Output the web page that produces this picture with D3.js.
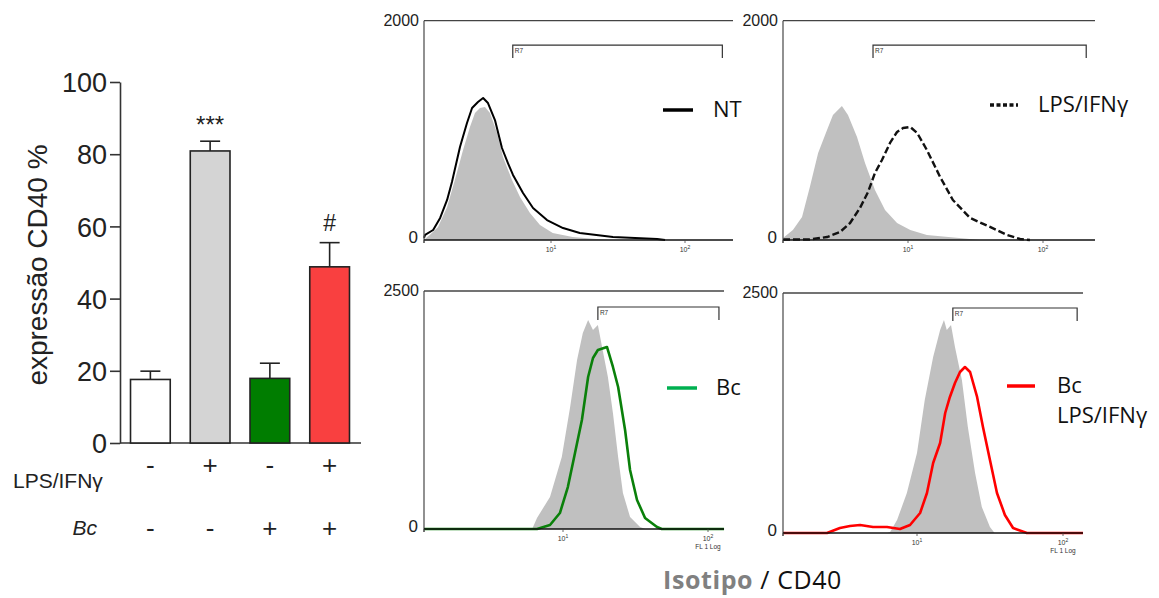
<!DOCTYPE html>
<html><head><meta charset="utf-8">
<script src="https://cdn.jsdelivr.net/npm/d3@7"></script>
<style>body{margin:0;background:#fff}svg{display:block}</style>
</head><body>
<svg id="c" width="1159" height="598"></svg>
<script>
// ---------- bar chart data ----------
const groups = ["NT", "LPS/IFNγ", "Bc", "Bc+LPS/IFNγ"];
const cd40Mean = [17.6, 80.9, 17.9, 48.8];
const cd40Err = [2.3, 2.7, 4.2, 6.7];
const barFills = ["#ffffff", "#d4d4d4", "#007d00", "#f94040"];
const signif = ["", "***", "", "#"];
const lpsRow = ["-", "+", "-", "+"];
const bcRow = ["-", "-", "+", "+"];
const yTicks = [0, 20, 40, 60, 80, 100];

// ---------- histogram data: [FL1 value, count] ----------
const isoNT = [[1.0,0],[1.06,27],[1.11,46],[1.29,119],[1.52,301],[1.75,547],[2.03,821],[2.30,1030],[2.52,1158],[2.76,1204],[3.02,1213],[3.31,1158],[3.76,976],[4.19,757],[4.93,547],[5.70,392],[6.83,246],[8.19,137],[10.3,64],[14.5,27],[21.9,9],[27,0]];
const cd40NT = [[1.0,20],[1.02,46],[1.18,91],[1.34,201],[1.52,365],[1.66,529],[1.92,848],[2.18,1067],[2.39,1204],[2.66,1258],[2.92,1295],[3.19,1249],[3.62,1094],[4.11,839],[4.58,702],[5.02,593],[6.02,429],[7.22,292],[9.3,182],[12.3,109],[16.4,64],[29,27],[62,9],[71,0]];
const isoLPS = [[1.0,18],[1.2,91],[1.42,210],[1.64,483],[1.91,793],[2.25,1003],[2.51,1140],[2.96,1222],[3.31,1140],[3.91,939],[4.53,702],[5.44,456],[6.55,274],[8.17,155],[10.4,91],[13.8,46],[24,18],[34,0]];
const cd40LPS = [[1.0,5],[1.64,5],[2.25,27],[2.86,73],[3.44,155],[4.13,292],[4.79,438],[5.44,611],[6.19,730],[7.18,885],[8.17,985],[9.12,1021],[10.4,1030],[11.7,976],[13.8,821],[17.3,575],[21.5,365],[28.8,201],[40.5,119],[54,46],[67.6,9],[80,0]];
const isoBc = [[6.0,0],[6.5,116],[8.06,336],[9.8,756],[11.2,1282],[12.5,1775],[13.7,2059],[14.9,2196],[16.1,2090],[17.4,2143],[18.6,1912],[20.4,1597],[22.1,1218],[24,756],[25.9,378],[29,126],[34,21],[37,0]];
const cd40Bc = [[1.0,0],[6.5,0],[8.06,42],[9.5,168],[10.8,441],[12.1,798],[13.5,1145],[14.9,1597],[16.1,1796],[17.4,1880],[20.1,1912],[22.1,1702],[24,1492],[26.8,1040],[29,620],[32.4,305],[36.8,116],[44.5,21],[48,0],[129,0]];
const isoBcLPS = [[6.0,0],[6.3,10],[7.1,135],[8.4,417],[10,833],[11.3,1385],[12.9,1833],[14.4,2115],[15.3,2219],[16,2115],[17.1,2167],[18.2,1938],[20.3,1594],[22.3,1104],[25,625],[27.8,271],[31.6,63],[34,0]];
const cd40BcLPS = [[1.0,0],[2.13,0],[2.66,52],[3.16,73],[3.76,83],[4.7,63],[5.97,63],[7.46,42],[8.87,83],[10.5,208],[11.7,417],[12.9,729],[14.4,938],[15.6,1250],[16.8,1417],[18.2,1563],[19.7,1677],[21.3,1729],[23.1,1677],[25.8,1417],[28.3,1104],[31.6,760],[35.3,417],[40,188],[45.5,52],[56.6,0],[137,0]];
const gates = [[5.0, 190], [5.25, 209], [17.4, 119], [17.6, 125]];
const gateLevel = [1778, 1778, 2332, 2344];
const yMaxes = [2000, 2000, 2500, 2500];
const legendLabels = [["NT"], ["LPS/IFNγ"], ["Bc"], ["Bc", "LPS/IFNγ"]];

const svg = d3.select("#c");
const AR = "'Liberation Sans', Arial, sans-serif";
const CAL = "'Open Sans', 'Noto Sans', sans-serif";

// ================= BAR CHART =================
const y = d3.scaleLinear().domain([0, 100]).range([443, 82]);
const x = d3.scaleBand().domain(groups).range([120.5, 359.5]).paddingInner(0.335).paddingOuter(0.1675);
const bar = svg.append("g");

const yAxis = bar.append("g").attr("transform", "translate(120,0)")
  .call(d3.axisLeft(y).tickValues(yTicks).tickSize(10).tickSizeOuter(0).tickPadding(3));
yAxis.select(".domain").attr("stroke", "#333").attr("stroke-width", 1.6);
yAxis.selectAll(".tick line").attr("stroke", "#333").attr("stroke-width", 1.6);
yAxis.selectAll(".tick text").attr("font-family", AR).attr("font-size", 27).attr("fill", "#222").attr("dy", "0.36em");

bar.append("line").attr("x1", 120).attr("x2", 361).attr("y1", y(0)).attr("y2", y(0))
  .attr("stroke", "#333").attr("stroke-width", 1.6);

groups.forEach((g, i) => {
  const bx = x(g), bw = x.bandwidth(), cx = bx + bw / 2;
  bar.append("line").attr("x1", cx).attr("x2", cx).attr("y1", y(cd40Mean[i])).attr("y2", y(cd40Mean[i] + cd40Err[i]))
    .attr("stroke", "#222").attr("stroke-width", 1.6);
  bar.append("line").attr("x1", cx - 10).attr("x2", cx + 10).attr("y1", y(cd40Mean[i] + cd40Err[i])).attr("y2", y(cd40Mean[i] + cd40Err[i]))
    .attr("stroke", "#222").attr("stroke-width", 1.6);
  bar.append("rect").attr("x", bx).attr("y", y(cd40Mean[i])).attr("width", bw).attr("height", y(0) - y(cd40Mean[i]))
    .attr("fill", barFills[i]).attr("stroke", "#222").attr("stroke-width", 1.6);
  if (signif[i]) {
    bar.append("text").attr("x", cx).attr("y", y(cd40Mean[i] + cd40Err[i]) - (signif[i] === "#" ? 12 : 8))
      .attr("text-anchor", "middle").attr("font-family", AR).attr("font-size", signif[i] === "#" ? 23 : 24).attr("fill", "#222")
      .text(signif[i]);
  }
  bar.append("text").attr("x", cx).attr("y", 474).attr("text-anchor", "middle").attr("font-family", AR)
    .attr("font-size", 26).attr("fill", "#222").text(lpsRow[i]);
  bar.append("text").attr("x", cx).attr("y", 537).attr("text-anchor", "middle").attr("font-family", AR)
    .attr("font-size", 26).attr("fill", "#222").text(bcRow[i]);
});

bar.append("text").attr("x", 13).attr("y", 488).attr("font-family", AR).attr("font-size", 21).attr("fill", "#222").text("LPS/IFNγ");
bar.append("text").attr("x", 97).attr("y", 535).attr("text-anchor", "end").attr("font-family", AR).attr("font-size", 21)
  .attr("font-style", "italic").attr("fill", "#222").text("Bc");
bar.append("text").attr("transform", "translate(47,265) rotate(-90)").attr("text-anchor", "middle")
  .attr("font-family", AR).attr("font-size", 28).attr("fill", "#222").text("expressão CD40 %");

// ================= HISTOGRAMS =================
const panels = [
  { ticks: [424, 551, 685], right: 733, top: 20.7, base: 240, iso: isoNT, cd: cd40NT, color: "#000", width: 2, dash: null,
    leg: { x1: 663, x2: 693, y: 110, tx: 713, ty: [117] }, fl: false },
  { ticks: [783, 908, 1043], right: 1095, top: 20.7, base: 240, iso: isoLPS, cd: cd40LPS, color: "#111", width: 2.4, dash: "7,3",
    leg: { x1: 990, x2: 1018, y: 105, tx: 1038, ty: [112] }, fl: false, legDash: "4,2.5" },
  { ticks: [424, 563, 708], right: 724, top: 291, base: 529, iso: isoBc, cd: cd40Bc, color: "#0a800a", width: 2.6, dash: null,
    leg: { x1: 667, x2: 697, y: 388, tx: 716, ty: [395] }, fl: true, legColor: "#00b050" },
  { ticks: [783, 917, 1063], right: 1083, top: 293, base: 533, iso: isoBcLPS, cd: cd40BcLPS, color: "#ff0000", width: 2.6, dash: null,
    leg: { x1: 1007, x2: 1035, y: 386, tx: 1057, ty: [393, 423] }, fl: true }
];

panels.forEach((p, i) => {
  const g = svg.append("g");
  const xs = d3.scaleLog().domain([1, 10, 100]).range(p.ticks);
  const ys = d3.scaleLinear().domain([0, yMaxes[i]]).range([p.base, p.top]);
  const x0 = p.ticks[0];

  g.append("path").datum(p.iso)
    .attr("d", d3.area().x(d => xs(d[0])).y0(ys(0)).y1(d => ys(d[1])))
    .attr("fill", "#c0c0c0");
  g.append("path").datum(p.cd)
    .attr("d", d3.line().x(d => xs(d[0])).y(d => ys(d[1])))
    .attr("fill", "none").attr("stroke", p.color).attr("stroke-width", p.width)
    .attr("stroke-dasharray", p.dash).attr("stroke-linejoin", "round");

  g.append("line").attr("x1", x0).attr("x2", x0).attr("y1", ys(yMaxes[i])).attr("y2", ys(0) + 3)
    .attr("stroke", "#555").attr("stroke-width", 1.3);
  g.append("line").attr("x1", x0).attr("x2", p.right).attr("y1", ys(yMaxes[i])).attr("y2", ys(yMaxes[i]))
    .attr("stroke", "#444").attr("stroke-width", 1.3);
  g.append("line").attr("x1", x0).attr("x2", p.right).attr("y1", ys(0)).attr("y2", ys(0))
    .attr("stroke", "#111").attr("stroke-width", 1.6);

  g.append("text").attr("x", x0 - 5).attr("y", ys(yMaxes[i]) + 5).attr("text-anchor", "end")
    .attr("font-family", AR).attr("font-size", 16).attr("fill", "#222").text(String(yMaxes[i]));
  g.append("text").attr("x", x0 - 6).attr("y", ys(0) + 3).attr("text-anchor", "end")
    .attr("font-family", AR).attr("font-size", 17).attr("fill", "#222").text("0");

  [1, 10, 100].forEach((v, k) => {
    g.append("line").attr("x1", xs(v)).attr("x2", xs(v)).attr("y1", ys(0)).attr("y2", ys(0) + 3)
      .attr("stroke", "#444").attr("stroke-width", 0.8);
    if (k > 0) {
      const t = g.append("text").attr("x", xs(v)).attr("y", ys(0) + 12).attr("text-anchor", "middle")
        .attr("font-family", AR).attr("font-size", 7).attr("fill", "#333");
      t.append("tspan").text("10");
      t.append("tspan").attr("dy", -3).attr("font-size", 5).text(k === 1 ? "1" : "2");
    }
  });
  if (p.fl) {
    g.append("text").attr("x", xs(100)).attr("y", ys(0) + 20).attr("text-anchor", "middle")
      .attr("font-family", AR).attr("font-size", 6.5).attr("fill", "#333").text("FL 1 Log");
  }

  const gx1 = xs(gates[i][0]), gx2 = xs(gates[i][1]), gy = ys(gateLevel[i]);
  g.append("path").attr("d", `M${gx1},${gy + 13}V${gy}H${gx2}V${gy + 13}`)
    .attr("fill", "none").attr("stroke", "#333").attr("stroke-width", 1.2);
  g.append("text").attr("x", gx1 + 2).attr("y", gy + 8).attr("font-family", AR).attr("font-size", 6.5)
    .attr("fill", "#333").text("R7");

  g.append("line").attr("x1", p.leg.x1).attr("x2", p.leg.x2).attr("y1", p.leg.y).attr("y2", p.leg.y)
    .attr("stroke", p.legColor || p.color).attr("stroke-width", 3.5).attr("stroke-dasharray", p.legDash || null);
  legendLabels[i].forEach((s, k) => {
    g.append("text").attr("x", p.leg.tx).attr("y", p.leg.ty[k]).attr("font-family", CAL)
      .attr("font-size", 22).attr("fill", "#111").text(s);
  });
});

const cap = svg.append("text").attr("x", 663).attr("y", 589).attr("font-family", CAL).attr("font-size", 25)
  .attr("letter-spacing", 0.6);
cap.append("tspan").attr("fill", "#808080").attr("font-weight", "bold").text("Isotipo");
cap.append("tspan").attr("fill", "#111").text(" / CD40");
</script>
</body></html>
